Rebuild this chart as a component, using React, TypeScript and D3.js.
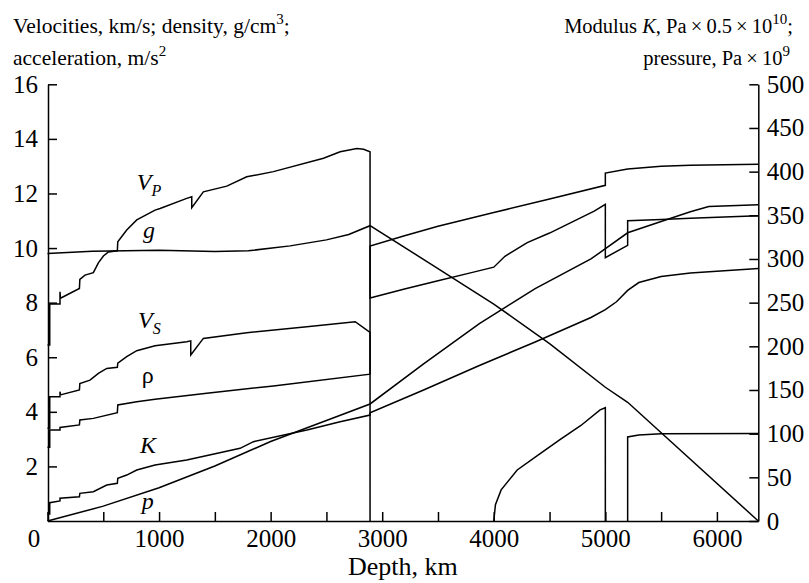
import * as d3 from 'd3';
import React, { useRef, useEffect } from 'react';

const depthTicks = [0, 500, 1000, 1500, 2000, 2500, 3000, 3500, 4000, 4500, 5000, 5500, 6000];
const leftTicks = [2, 4, 6, 8, 10, 12, 14, 16];
const rightTicks = [0, 50, 100, 150, 200, 250, 300, 350, 400, 450, 500];

// [depth km, value]; left scale: km/s, g/cm3, m/s2
const vp = [
  [0, 6.45], [20, 6.45], [20, 7.95], [112, 7.95], [112, 8.4], [116, 8.16], [286, 8.52], [290, 8.85],
  [336, 9.01], [411, 9.1], [456, 9.46], [501, 9.71], [546, 9.86], [626, 9.9], [630, 10.23], [710, 10.66],
  [800, 11.03], [964, 11.39], [1009, 11.45], [1248, 11.82], [1293, 11.88], [1293, 11.48], [1397, 12.06],
  [1607, 12.27], [1786, 12.61], [2025, 12.8], [2474, 13.29], [2623, 13.53], [2773, 13.65], [2833, 13.62],
  [2891, 13.53], [2891, 8.17], [3200, 8.5], [3500, 8.8], [3800, 9.1], [4000, 9.3], [4100, 9.7],
  [4300, 10.2], [4500, 10.55], [4700, 10.95], [4900, 11.35], [5000, 11.6], [5000, 9.65], [5200, 10.1],
  [5200, 11.0], [5500, 11.05], [5762, 11.09], [6371, 11.18],
];
const vs = [
  [0, 3.4], [20, 3.4], [20, 4.55], [112, 4.55], [112, 4.74], [116, 4.62], [286, 4.8], [290, 5.04],
  [381, 5.16], [456, 5.41], [531, 5.59], [626, 5.63], [630, 5.78], [710, 6.02], [800, 6.24], [964, 6.42],
  [1248, 6.57], [1284, 6.6], [1284, 6.08], [1397, 6.69], [1786, 6.9], [2325, 7.12], [2758, 7.3],
  [2891, 6.91], [2891, 0], [2891, null],
  [4000, 0], [4015, 0.6], [4066, 1.14], [4210, 1.87], [4400, 2.42], [4590, 2.97], [4781, 3.5],
  [4953, 4.07], [5000, 4.15], [5000, 0], [5000, null],
  [5200, 0], [5200, 3.08], [5300, 3.15], [5500, 3.2], [6371, 3.21],
];
const rho = [
  [0, 2.7], [20, 2.7], [20, 3.33], [112, 3.33], [112, 3.43], [286, 3.52], [290, 3.7], [411, 3.76],
  [626, 3.97], [630, 4.25], [800, 4.37], [964, 4.46], [1428, 4.68], [2025, 4.95], [2891, 5.38],
  [2891, 10.07], [3200, 10.45], [3500, 10.8], [4000, 11.3], [4500, 11.8], [5000, 12.3],
  [5000, 12.75], [5200, 12.9], [5500, 13.0], [5762, 13.03], [6371, 13.07],
];
const grav = [
  [0, 9.8], [400, 9.88], [1000, 9.92], [1500, 9.87], [1800, 9.9], [2175, 10.08], [2500, 10.3],
  [2700, 10.5], [2891, 10.82], [3500, 9.25], [4000, 7.95], [4500, 6.5], [5000, 4.9], [5200, 4.35],
  [6371, 0],
];
// right scale: K in 0.5e10 Pa, p in 1e9 Pa
const modK = [
  [0, 8], [20, 8], [20, 21], [112, 23], [112, 26], [286, 27.8], [290, 31.7], [411, 33.5], [531, 41.2],
  [626, 43.1], [630, 48.9], [710, 52.6], [800, 58.4], [964, 64.1], [1248, 69.8], [1726, 83.2],
  [1846, 90.8], [2325, 104.2], [2623, 113.7], [2891, 121.3], [2891, 124], [3371, 150], [3871, 178],
  [4371, 205], [4871, 233], [5000, 242], [5100, 251], [5200, 264], [5300, 273], [5500, 280],
  [5762, 284], [6371, 289],
];
const pres = [
  [0, 0], [500, 17], [1000, 38], [1500, 63], [2000, 91], [2500, 115], [2891, 134], [3371, 180],
  [3871, 226], [4371, 266], [4871, 300], [5200, 330], [5500, 343], [5762, 354], [5927, 360], [6371, 362],
];

const curveLabels = [
  { text: 'V', sub: 'P', d: 800, v: 12.12, italic: true },
  { text: 'g', sub: '', d: 857, v: 10.37, italic: true },
  { text: 'V', sub: 'S', d: 812, v: 7.06, italic: true },
  { text: 'ρ', sub: '', d: 845, v: 5.05, italic: false },
  { text: 'K', sub: '', d: 830, v: 2.5, italic: true },
  { text: 'p', sub: '', d: 845, v: 0.45, italic: true },
];

const font = '"Liberation Serif", "Times New Roman", serif';

function EarthChart({ width, height }) {
  const ref = useRef();

  useEffect(() => {
    const svg = d3.select(ref.current);
    svg.selectAll('*').remove();

    const x = d3.scaleLinear().domain([0, 6371]).range([47.5, 758.3]);
    const yL = d3.scaleLinear().domain([0, 16]).range([521, 84.3]);
    const yR = d3.scaleLinear().domain([0, 500]).range([521, 84.3]);

    const bottom = svg.append('g')
      .attr('transform', 'translate(0,521)')
      .call(d3.axisBottom(x).tickValues(depthTicks).tickSizeInner(-9).tickSizeOuter(0).tickPadding(8.5)
        .tickFormat(d => (d % 1000 === 0 ? String(d) : '')));
    bottom.selectAll('text').filter(d => d === 0).attr('dx', -14);

    svg.append('g')
      .attr('transform', 'translate(48,0)')
      .call(d3.axisLeft(yL).tickValues(leftTicks).tickSizeInner(-9).tickSizeOuter(0).tickPadding(10));

    svg.append('g')
      .attr('transform', 'translate(758.3,0)')
      .call(d3.axisRight(yR).tickValues(rightTicks).tickSizeInner(-9).tickSizeOuter(0).tickPadding(8.5));

    svg.selectAll('.tick text')
      .attr('font-family', font).attr('font-size', 25).attr('fill', '#000');
    svg.selectAll('.domain, .tick line').attr('stroke', '#000').attr('stroke-width', 1.5);

    const lineL = d3.line().defined(d => d[1] != null).x(d => x(d[0])).y(d => yL(d[1]));
    const lineR = d3.line().defined(d => d[1] != null).x(d => x(d[0])).y(d => yR(d[1]));

    const g = svg.append('g').attr('fill', 'none').attr('stroke', '#000').attr('stroke-width', 1.5);
    [vp, vs, rho, grav].forEach(s => g.append('path').attr('d', lineL(s)));
    [modK, pres].forEach(s => g.append('path').attr('d', lineR(s)));

    const lab = svg.append('g').attr('font-family', font).attr('font-size', 24);
    curveLabels.forEach(l => {
      const t = lab.append('text').attr('x', x(l.d)).attr('y', yL(l.v))
        .attr('font-style', l.italic ? 'italic' : 'normal').text(l.text);
      if (l.sub) t.append('tspan').attr('font-size', 16).attr('dy', 6).text(l.sub);
    });
  }, []);

  return (
    <svg ref={ref} width={width} height={height}
      style={{ position: 'absolute', left: 0, top: 0 }} />
  );
}

function Titles() {
  const st = { fontFamily: font, fontSize: 21.5, fill: '#000' };
  return (
    <g style={st}>
      <text x={13} y={33.3}>
        Velocities, km/s; density, g/cm<tspan dy={-9} fontSize={15}>3</tspan><tspan dy={9}>;</tspan>
      </text>
      <text x={13} y={65}>
        acceleration, m/s<tspan dy={-9} fontSize={15}>2</tspan>
      </text>
      <text x={793} y={33.3} textAnchor="end" fontSize={20.5}>
        Modulus <tspan fontStyle="italic">K</tspan>, Pa{'\u2009×\u2009'}0.5{'\u2009×\u2009'}10<tspan dy={-9} fontSize={15}>10</tspan><tspan dy={9}>;</tspan>
      </text>
      <text x={790} y={65} textAnchor="end" fontSize={20.5}>
        pressure, Pa{'\u2009×\u2009'}10<tspan dy={-9} fontSize={15}>9</tspan>
      </text>
      <text x={402.8} y={575} textAnchor="middle" fontSize={26}>Depth, km</text>
    </g>
  );
}

export default function App() {
  return (
    <div style={{ position: 'absolute', left: 0, top: 0, width: 809, height: 583, background: '#fff' }}>
      <EarthChart width={809} height={583} />
      <svg width={809} height={583} style={{ position: 'absolute', left: 0, top: 0 }}>
        <Titles />
      </svg>
    </div>
  );
}
